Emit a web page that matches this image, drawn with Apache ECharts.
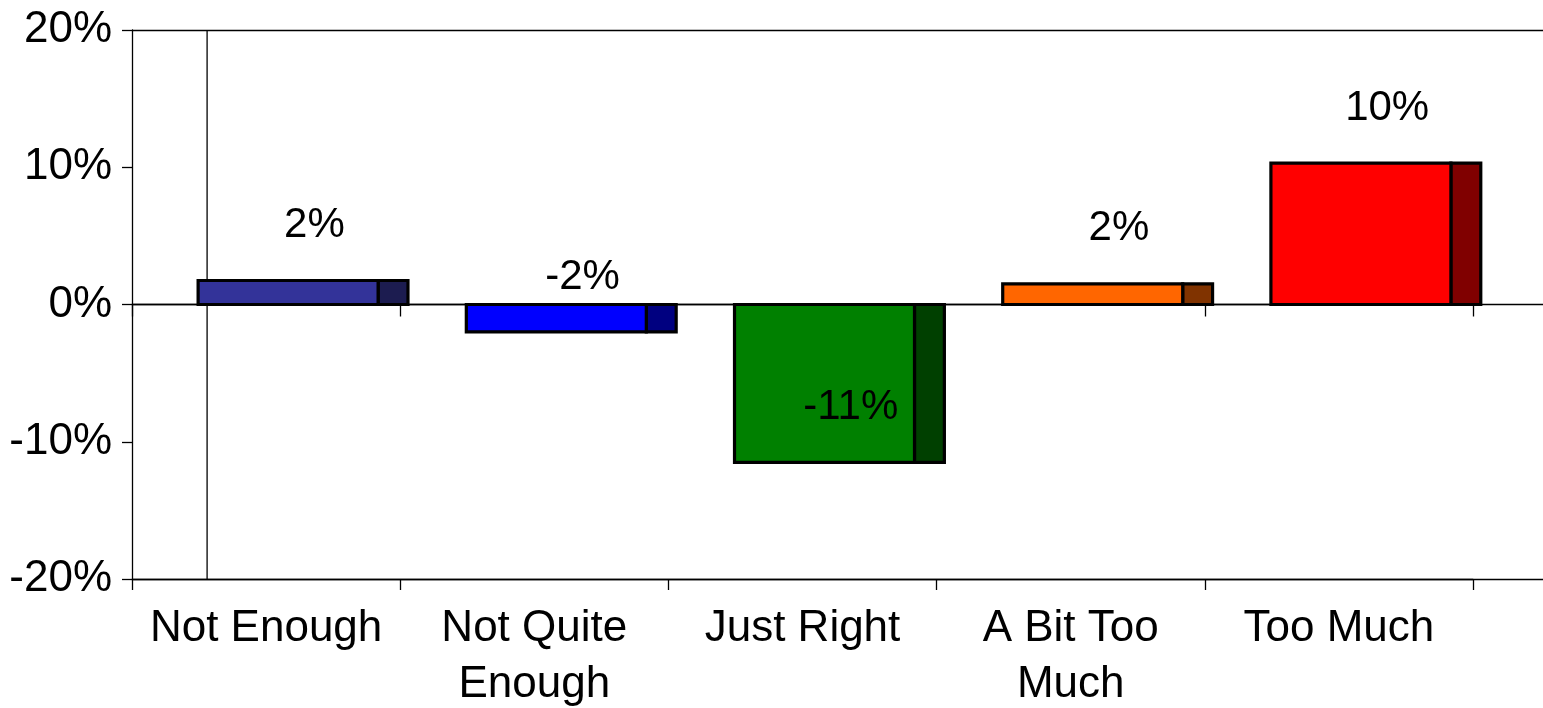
<!DOCTYPE html>
<html>
<head>
<meta charset="utf-8">
<script src="https://cdn.jsdelivr.net/npm/echarts@6/dist/echarts.min.js"></script>
<style>
  html, body { margin: 0; padding: 0; background: #fff; }
  #chart { width: 1543px; height: 708px; }
</style>
</head>
<body>
<div id="chart"></div>
<script>
const categories = ['Not Enough', 'Not Quite\nEnough', 'Just Right', 'A Bit Too\nMuch', 'Too Much'];
const values = [1.75, -2.0, -11.5, 1.5, 10.3];
const frontColors = ['#333399', '#0000ff', '#008000', '#ff6600', '#ff0000'];
const sideColors = ['#1c1c50', '#000080', '#004000', '#803300', '#800000'];
const yTicks = { min: -20, max: 20, interval: 10 };

const FONT = '"Liberation Sans", Arial, sans-serif';

const chart = echarts.init(document.getElementById('chart'));

function renderBar(params, api) {
  const idx = api.value(0);
  const val = api.value(1);
  const [cx, yVal] = api.coord([idx, val]);
  const y0 = api.coord([idx, 0])[1];
  const band = api.size([1, 0])[0];
  const fx0 = cx - 0.2535 * band;
  const fx1 = cx + 0.4176 * band;
  const sx1 = cx + 0.529 * band;
  const top = Math.min(yVal, y0);
  const h = Math.abs(yVal - y0);
  const children = [];
  if (idx === 0) {
    // back wall corner line
    const lx = cx - 0.5 * band + 0.28 * band;
    children.push({
      type: 'line',
      shape: { x1: lx, y1: api.coord([0, yTicks.max])[1], x2: lx, y2: api.coord([0, yTicks.min])[1] },
      style: { stroke: '#000', lineWidth: 1.3 }
    });
  }
  children.push({
    type: 'rect',
    shape: { x: fx1, y: top, width: sx1 - fx1, height: h },
    style: { fill: sideColors[idx], stroke: '#000', lineWidth: 3.2 }
  });
  children.push({
    type: 'rect',
    shape: { x: fx0, y: top, width: fx1 - fx0, height: h },
    style: { fill: frontColors[idx], stroke: '#000', lineWidth: 3.2 }
  });
  children.push({
    type: 'text',
    x: cx + 0.18 * band,
    y: yVal - 55,
    style: {
      text: Math.round(val) + '%',
      font: '42px ' + FONT,
      fill: '#000',
      align: 'center',
      verticalAlign: 'middle'
    }
  });
  return { type: 'group', children: children };
}

const option = {
  animation: false,
  grid: [
    { left: 132, right: 70, top: 30, bottom: 129, outerBoundsMode: 'none' },
    { left: 1473, right: 0, top: 30, bottom: 129, outerBoundsMode: 'none' }
  ],
  xAxis: [
    {
      type: 'category', gridIndex: 0, data: categories,
      axisLine: { onZero: true, lineStyle: { color: '#000', width: 1.3 } },
      axisTick: { show: true, interval: 0, length: 12, lineStyle: { color: '#000', width: 1.3 } },
      axisLabel: { show: false },
      splitLine: { show: false }
    },
    {
      type: 'category', gridIndex: 0, data: categories, position: 'bottom',
      axisLine: { onZero: false, lineStyle: { color: '#000', width: 1.3 } },
      axisTick: { show: true, interval: 0, length: 11, lineStyle: { color: '#000', width: 1.3 } },
      axisLabel: { interval: 0, color: '#000', fontSize: 44, fontFamily: FONT, lineHeight: 56, margin: 22 }
    },
    {
      type: 'category', gridIndex: 1, data: ['x'], show: false
    }
  ],
  yAxis: [
    {
      type: 'value', gridIndex: 0, min: yTicks.min, max: yTicks.max, interval: yTicks.interval,
      axisLine: { show: true, lineStyle: { color: '#000', width: 1.3 } },
      axisTick: { show: true, length: 10, lineStyle: { color: '#000', width: 1.3 } },
      axisLabel: { color: '#000', fontSize: 44, fontFamily: FONT, margin: 20, formatter: v => v + '%' },
      splitLine: { show: false }
    },
    {
      type: 'value', gridIndex: 0, min: yTicks.min, max: yTicks.max, interval: 20,
      axisLine: { show: false }, axisTick: { show: false }, axisLabel: { show: false },
      splitLine: { show: true, lineStyle: { color: '#000', width: 1.3 } }
    },
    {
      type: 'value', gridIndex: 1, min: yTicks.min, max: yTicks.max, interval: 20,
      axisLine: { show: false }, axisTick: { show: false }, axisLabel: { show: false },
      splitLine: { show: true, lineStyle: { color: '#000', width: 1.3 } }
    }
  ],
  series: [
    {
      type: 'custom',
      xAxisIndex: 0,
      yAxisIndex: 0,
      renderItem: renderBar,
      clip: false,
      data: values.map((v, i) => [i, v]),
      z: 10
    }
  ]
};

chart.setOption(option);
window.addEventListener('resize', () => chart.resize());
</script>
</body>
</html>
